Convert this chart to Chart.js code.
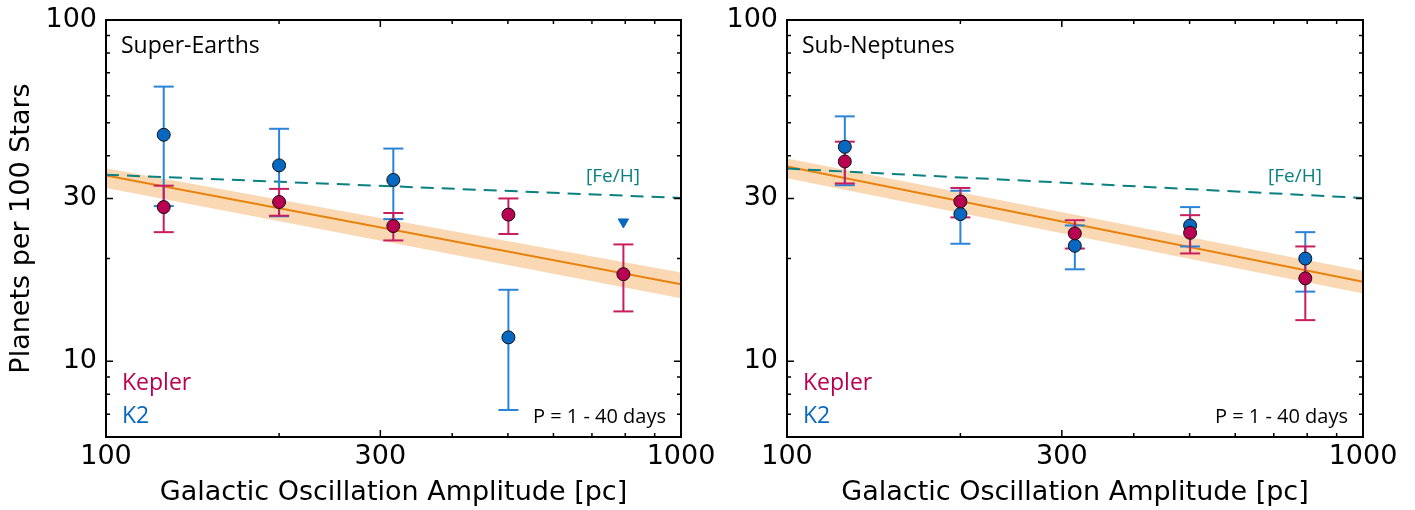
<!DOCTYPE html>
<html>
<head>
<meta charset="utf-8">
<script src="https://cdn.jsdelivr.net/npm/chart.js@4.4.1/dist/chart.umd.min.js"></script>
<style>
  html, body { margin: 0; padding: 0; background: #fff; }
  #wrap { position: relative; width: 1415px; height: 510px; overflow: hidden; }
  canvas { position: absolute; top: 0; }
  #left { left: 0; }
  #right { left: 700px; }
</style>
</head>
<body>
<div id="wrap">
  <canvas id="left" width="720" height="510"></canvas>
  <canvas id="right" width="715" height="510"></canvas>
</div>
<script>
// ── data ────────────────────────────────────────────
const X_BINS = [126, 200, 316, 501, 794];
const FIT_X = [100, 1000];

// Super-Earths
const SE_KEPLER    = [28.3, 29.3, 24.9, 26.9, 18.0];
const SE_KEPLER_HI = [32.7, 32.0, 27.2, 30.0, 22.0];
const SE_KEPLER_LO = [23.9, 26.7, 22.6, 23.6, 14.0];
const SE_K2        = [46.1, 37.5, 34.0, 11.75, null];
const SE_K2_HI     = [63.8, 48.0, 42.0, 16.2, null];
const SE_K2_LO     = [28.5, 26.6, 26.1, 7.2, null];
const SE_K2_LIMIT  = [null, null, null, null, 25.6];
const SE_FIT    = [35.0, 16.8];
const SE_FIT_HI = [36.8, 18.2];
const SE_FIT_LO = [32.2, 15.3];
const SE_FEH    = [35.2, 30.1];

// Sub-Neptunes
const SN_KEPLER    = [38.5, 29.4, 23.7, 23.8, 17.5];
const SN_KEPLER_HI = [44.0, 32.2, 25.9, 26.8, 21.7];
const SN_KEPLER_LO = [33.2, 26.4, 21.4, 20.7, 13.2];
const SN_K2        = [42.5, 27.0, 21.8, 25.0, 20.0];
const SN_K2_HI     = [52.2, 31.6, 25.0, 28.3, 23.9];
const SN_K2_LO     = [32.8, 22.1, 18.6, 21.7, 16.0];
const SN_K2_LIMIT  = [null, null, null, null, null];
const SN_FIT    = [37.2, 17.1];
const SN_FIT_HI = [39.3, 18.4];
const SN_FIT_LO = [34.4, 15.8];
const SN_FEH    = [36.7, 30.1];

const X_MAJOR = [100, 300, 1000];
const X_MINOR = [200, 400, 500, 600, 700, 800, 900];
const Y_MAJOR = [10, 30, 100];
const Y_MINOR = [6, 7, 8, 9, 20, 40, 50, 60, 70, 80, 90];

// ── styles ──────────────────────────────────────────
const KEPLER = '#BA0050';
const KEPLER_BAR = '#C81E5E';
const K2 = '#0768C2';
const K2_BAR = '#2A84D8';
const FIT = '#E8820C';
const BAND = 'rgba(246,190,130,.6)';
const FEH = '#0A8080';
const TEXT_FONT = '"Open Sans", sans-serif';
const AXIS_FONT = '"DejaVu Sans", sans-serif';

function pts(xs, ys) {
  return xs.map((x, i) => ({ x: x, y: ys[i] })).filter(p => p.y != null);
}

function errorBars(vals, lo, hi, color) {
  const out = [];
  X_BINS.forEach((x, i) => {
    if (vals[i] == null) return;
    out.push({
      data: [{ x: x, y: lo[i] }, { x: x, y: hi[i] }],
      showLine: true, borderColor: color, borderWidth: 2,
      pointStyle: 'line', pointRadius: 10, pointBorderColor: color, pointBorderWidth: 2,
      order: 3
    });
  });
  return out;
}

function buildDatasets(p) {
  return [
    { data: pts(X_BINS, p.kepler), pointRadius: 6.5, backgroundColor: KEPLER, borderColor: '#111', pointBorderWidth: 1, order: 0 },
    { data: pts(X_BINS, p.k2), pointRadius: 6.5, backgroundColor: K2, borderColor: '#111', pointBorderWidth: 1, order: 1 },
    { data: pts(X_BINS, p.k2Limit), pointStyle: 'triangle', rotation: 180, pointRadius: 6, backgroundColor: K2, borderColor: K2, order: 1 },
    ...errorBars(p.kepler, p.keplerLo, p.keplerHi, KEPLER_BAR),
    ...errorBars(p.k2, p.k2Lo, p.k2Hi, K2_BAR),
    { data: pts(FIT_X, p.feh), showLine: true, borderColor: FEH, borderWidth: 2, borderDash: [13, 8], pointRadius: 0, order: 4 },
    { data: pts(FIT_X, p.fit), showLine: true, borderColor: FIT, borderWidth: 2, pointRadius: 0, order: 5 },
    { data: pts(FIT_X, p.fitHi), showLine: true, borderWidth: 0, borderColor: 'rgba(0,0,0,0)', pointRadius: 0, order: 6 },
    { data: pts(FIT_X, p.fitLo), showLine: true, borderWidth: 0, borderColor: 'rgba(0,0,0,0)', pointRadius: 0, fill: '-1', backgroundColor: BAND, order: 6 }
  ];
}

// frame + inward ticks on all four sides
const framePlugin = {
  id: 'frame',
  afterDatasetsDraw(chart) {
    const { ctx, chartArea: a, scales: { x, y } } = chart;
    ctx.save();
    ctx.strokeStyle = '#000';
    ctx.lineWidth = 1.5;
    const tick = (vals, len) => {
      vals.forEach(v => {
        const px = x.getPixelForValue(v);
        ctx.beginPath();
        ctx.moveTo(px, a.bottom); ctx.lineTo(px, a.bottom - len);
        ctx.moveTo(px, a.top); ctx.lineTo(px, a.top + len);
        ctx.stroke();
      });
    };
    const tickY = (vals, len) => {
      vals.forEach(v => {
        const py = y.getPixelForValue(v);
        ctx.beginPath();
        ctx.moveTo(a.left, py); ctx.lineTo(a.left + len, py);
        ctx.moveTo(a.right, py); ctx.lineTo(a.right - len, py);
        ctx.stroke();
      });
    };
    tick(X_MAJOR, 7); tick(X_MINOR, 4);
    tickY(Y_MAJOR, 7); tickY(Y_MINOR, 4);
    ctx.lineWidth = 2;
    ctx.strokeRect(a.left, a.top, a.width, a.height);
    ctx.restore();
  }
};

const labelPlugin = {
  id: 'labels',
  afterDraw(chart) {
    const { ctx, chartArea: a } = chart;
    const t = chart.options.plugins.labels;
    ctx.save();
    ctx.textBaseline = 'alphabetic';
    ctx.textAlign = 'left';
    ctx.font = '23px ' + TEXT_FONT;
    ctx.fillStyle = '#000';
    ctx.fillText(t.title, a.left + 15, 53);
    ctx.fillStyle = KEPLER;
    ctx.fillText('Kepler', a.left + 16, 390);
    ctx.fillStyle = K2;
    ctx.fillText('K2', a.left + 16, 423);
    ctx.font = '19px ' + TEXT_FONT;
    ctx.fillStyle = FEH;
    ctx.fillText('[Fe/H]', a.right - 95, 182);
    ctx.font = '20px ' + TEXT_FONT;
    ctx.fillStyle = '#000';
    ctx.textAlign = 'right';
    ctx.fillText('P = 1 - 40 days', a.right - 15, 423);
    ctx.restore();
  }
};

function makeChart(id, p, yAxisWidth, padRight, showYTitle) {
  return new Chart(document.getElementById(id), {
    type: 'scatter',
    data: { datasets: buildDatasets(p) },
    options: {
      responsive: false, animation: false, events: [],
      layout: { padding: { top: 20, right: padRight, left: 0, bottom: 0 } },
      plugins: { legend: { display: false }, tooltip: { enabled: false }, labels: { title: p.title } },
      scales: {
        x: {
          type: 'logarithmic', min: 100, max: 1000,
          grid: { display: false, drawTicks: false }, border: { display: false },
          afterBuildTicks: s => { s.ticks = X_MAJOR.map(v => ({ value: v })); },
          afterFit: s => { s.height = 73; s.paddingLeft = 0; s.paddingRight = 0; },
          ticks: { color: '#000', font: { family: AXIS_FONT, size: 27 }, padding: 4, maxRotation: 0, autoSkip: false, callback: v => String(v) },
          title: { display: true, text: 'Galactic Oscillation Amplitude [pc]', color: '#000', font: { family: AXIS_FONT, size: 27 }, padding: { top: 0, bottom: 1 } }
        },
        y: {
          type: 'logarithmic', min: 6, max: 100,
          grid: { display: false, drawTicks: false }, border: { display: false },
          afterBuildTicks: s => { s.ticks = Y_MAJOR.map(v => ({ value: v })); },
          afterFit: s => { s.width = yAxisWidth; s.paddingTop = 0; s.paddingBottom = 0; },
          ticks: { color: '#000', font: { family: AXIS_FONT, size: 27 }, padding: 9, autoSkip: false, callback: v => String(v) },
          title: { display: showYTitle, text: 'Planets per 100 Stars', color: '#000', font: { family: AXIS_FONT, size: 27 }, padding: { top: 6, bottom: 0 } }
        }
      }
    },
    plugins: [framePlugin, labelPlugin]
  });
}

makeChart('left', {
  title: 'Super-Earths',
  kepler: SE_KEPLER, keplerHi: SE_KEPLER_HI, keplerLo: SE_KEPLER_LO,
  k2: SE_K2, k2Hi: SE_K2_HI, k2Lo: SE_K2_LO, k2Limit: SE_K2_LIMIT,
  fit: SE_FIT, fitHi: SE_FIT_HI, fitLo: SE_FIT_LO, feh: SE_FEH
}, 106, 39, true);

makeChart('right', {
  title: 'Sub-Neptunes',
  kepler: SN_KEPLER, keplerHi: SN_KEPLER_HI, keplerLo: SN_KEPLER_LO,
  k2: SN_K2, k2Hi: SN_K2_HI, k2Lo: SN_K2_LO, k2Limit: SN_K2_LIMIT,
  fit: SN_FIT, fitHi: SN_FIT_HI, fitLo: SN_FIT_LO, feh: SN_FEH
}, 87, 52, false);
</script>
</body>
</html>
